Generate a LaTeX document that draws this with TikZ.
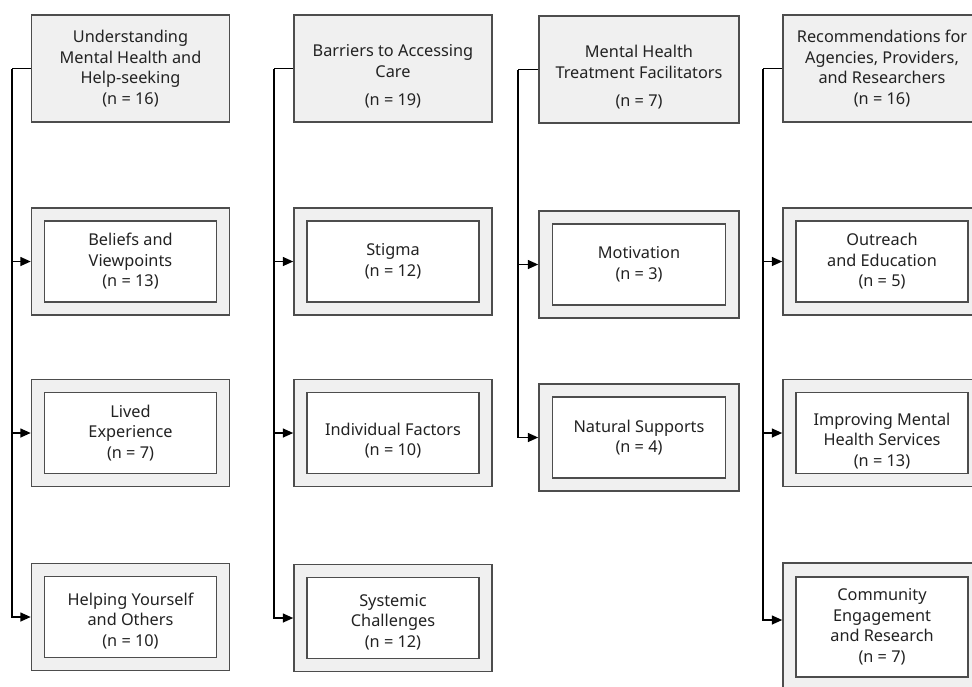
\documentclass[tikz,border=0pt]{standalone}
\usepackage{fontspec}
\setmainfont{Noto Sans}
\usetikzlibrary{positioning, arrows.meta}

\definecolor{boxgray}{HTML}{4D4D4D}
\definecolor{fillgray}{HTML}{F0F0F0}
\definecolor{textgray}{HTML}{222222}

% invisible strut that pushes a text block down
\newcommand{\txtdrop}[1]{\rule{0pt}{#1}}

\begin{document}
\begin{tikzpicture}[
    x=1pt, y=-1pt,
    header/.style={rectangle, draw=boxgray, line width=1.5pt, fill=fillgray, minimum width=198pt,
                   minimum height=107pt, align=center, inner sep=0pt, text=textgray,
                   font=\fontsize{16.3}{20.5}\selectfont},
    outer/.style={rectangle, draw=boxgray, line width=1.5pt, fill=fillgray, minimum width=198pt,
                  minimum height=107pt},
    inner/.style={rectangle, draw=boxgray, line width=1.5pt, fill=white, minimum width=172pt,
                  minimum height=81pt, align=center, inner sep=0pt, text=textgray,
                  font=\fontsize{16.3}{20.5}\selectfont},
    arrow/.style={-{Triangle[length=10.5pt, width=9pt]}, line width=1.6pt},
    line/.style={line width=1.6pt}
]
    \useasboundingbox (0, 0) rectangle (972, 686);
    \clip (0, 0) rectangle (972, 686);

    % Column 1
    \node[header] (understand) at (130.5, 68.5) {Understanding\\Mental Health and\\Help-seeking\\(n = 16)};
    \node[outer] (beliefs) at (130.5, 261.5) {};
    \node[inner] (beliefsin) at (130.5, 261.5) {Beliefs and\\Viewpoints\\(n = 13)};
    \node[outer] (lived) at (130.5, 433) {};
    \node[inner] (livedin) at (130.5, 433) {Lived\\Experience\\(n = 7)};
    \node[outer] (helping) at (130.5, 617) {};
    \node[inner] (helpingin) at (130.5, 617) {\txtdrop{20pt}Helping Yourself\\and Others\\(n = 10)};

    % Column 2
    \node[header] (barriers) at (393, 68.5) {\txtdrop{28pt}Barriers to Accessing\\Care\\[8pt](n = 19)};
    \node[outer] (stigma) at (393, 261.5) {};
    \node[inner] (stigmain) at (393, 261.5) {Stigma\\(n = 12)};
    \node[outer] (individual) at (393, 433) {};
    \node[inner] (individualin) at (393, 433) {\txtdrop{28pt}Individual Factors\\(n = 10)};
    \node[outer] (systemic) at (393, 618) {};
    \node[inner] (systemicin) at (393, 618) {\txtdrop{20pt}Systemic\\Challenges\\(n = 12)};

    % Column 3
    \node[header, minimum width=200pt] (facilitators) at (639, 69.5) {\txtdrop{28pt}Mental Health\\Treatment Facilitators\\[8pt](n = 7)};
    \node[outer, minimum width=200pt] (motivation) at (639, 264.5) {};
    \node[inner, minimum width=173pt] (motivationin) at (639, 264.5) {Motivation\\(n = 3)};
    \node[outer, minimum width=200pt] (natural) at (639, 437.5) {};
    \node[inner, minimum width=173pt] (naturalin) at (639, 437.5) {Natural Supports\\(n = 4)};

    % Column 4
    \node[header] (recommend) at (882, 68.5) {Recommendations for\\Agencies, Providers,\\and Researchers\\(n = 16)};
    \node[outer] (outreach) at (882, 261.5) {};
    \node[inner] (outreachin) at (882, 261.5) {Outreach\\and Education\\(n = 5)};
    \node[outer] (improving) at (882, 433) {};
    \node[inner] (improvingin) at (882, 433) {\txtdrop{28pt}Improving Mental\\Health Services\\(n = 13)};
    \node[outer, minimum height=128pt] (community) at (882, 627) {};
    \node[inner, minimum height=100pt] (communityin) at (882, 627) {Community\\Engagement\\and Research\\(n = 7)};

    % Spines
    \coordinate (s1) at (12, 68.5);
    \coordinate (s2) at (274, 68.5);
    \coordinate (s3) at (518, 69.5);
    \coordinate (s4) at (763, 68.5);

    % Arrows
    \draw[line] (understand.west) -- (s1);
    \draw[arrow] (s1) |- (beliefs.west);
    \draw[arrow] (s1) |- (lived.west);
    \draw[arrow] (s1) |- (helping.west);

    \draw[line] (barriers.west) -- (s2);
    \draw[arrow] (s2) |- (stigma.west);
    \draw[arrow] (s2) |- (individual.west);
    \draw[arrow] (s2) |- (systemic.west);

    \draw[line] (facilitators.west) -- (s3);
    \draw[arrow] (s3) |- (motivation.west);
    \draw[arrow] (s3) |- (natural.west);

    \draw[line] (recommend.west) -- (s4);
    \draw[arrow] (s4) |- (outreach.west);
    \draw[arrow] (s4) |- (improving.west);
    \draw[arrow] (s4) |- ([yshift=7pt]community.west);

\end{tikzpicture}
\end{document}
